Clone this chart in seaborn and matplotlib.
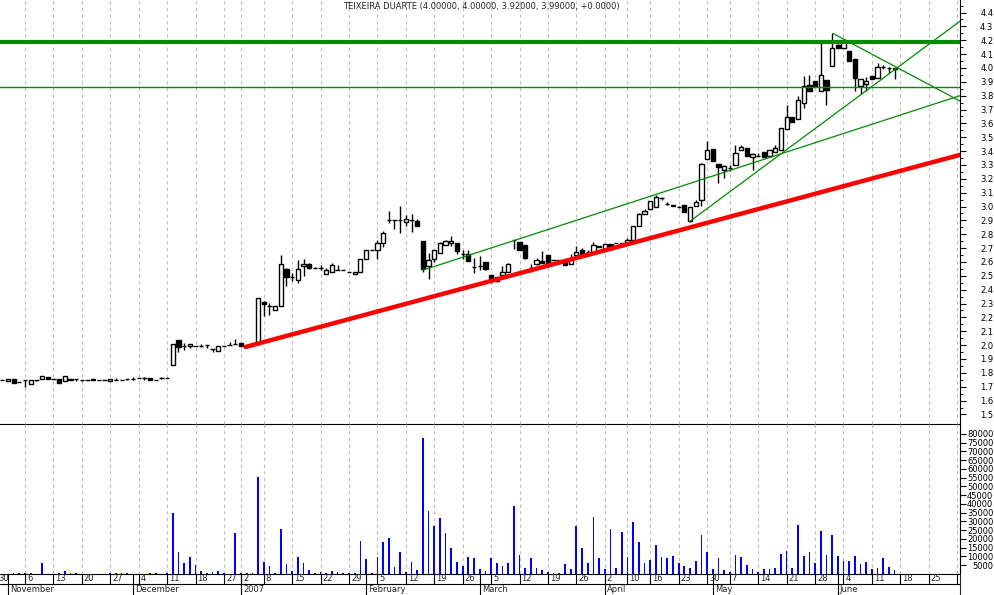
import numpy as np
import matplotlib
matplotlib.use("Agg")
import matplotlib.pyplot as plt
import seaborn as sns

# daily OHLC, trading day index 0 = 30 Oct 2006
opens = [1.752, 1.752, 1.740, 1.757, 1.735, 1.752, 1.723, 1.752, 1.757, 1.772,
         1.757, 1.757, 1.740, 1.757, 1.757, 1.752, 1.752, 1.757, 1.748, 1.748,
         1.740, 1.745, 1.752, 1.757, 1.757, 1.762, 1.762, 1.762, 1.752, 1.762,
         1.764, 1.858, 2.038, 1.997, 1.993, 1.993, 1.997, 2.002, 1.973, 1.956,
         1.993, 2.002, 2.009, 2.012, 1.995, 1.995, 2.010, 2.310, 2.286, 2.255,
         2.281, 2.546, 2.490, 2.473, 2.570, 2.587, 2.558, 2.555, 2.514, 2.529,
         2.541, 2.541, 2.527, 2.510, 2.529, 2.623, 2.685, 2.685, 2.738, 2.902,
         2.902, 2.902, 2.887, 2.902, 2.894, 2.750, 2.570, 2.623, 2.666, 2.726,
         2.735, 2.738, 2.661, 2.661, 2.565, 2.570, 2.599, 2.503, 2.490, 2.505,
         2.529, 2.758, 2.743, 2.719, 2.553, 2.587, 2.606, 2.647, 2.613, 2.613,
         2.606, 2.582, 2.647, 2.685, 2.671, 2.666, 2.714, 2.695, 2.731, 2.738,
         2.714, 2.738, 2.762, 2.863, 2.943, 2.984, 3.000, 3.060, 3.020, 3.010,
         2.998, 3.010, 2.894, 3.007, 3.050, 3.346, 3.418, 3.308, 3.267, 3.279,
         3.303, 3.406, 3.423, 3.356, 3.368, 3.394, 3.363, 3.392, 3.406, 3.561,
         3.647, 3.628, 3.748, 3.880, 3.904, 3.832, 3.911, 4.012, 4.169, 4.145,
         4.121, 4.061, 3.868, 3.885, 3.940, 3.928, 4.007, 4.000, 4.000]
highs = [1.752, 1.752, 1.757, 1.757, 1.735, 1.752, 1.752, 1.752, 1.776, 1.772,
         1.757, 1.757, 1.776, 1.757, 1.757, 1.752, 1.752, 1.757, 1.748, 1.748,
         1.757, 1.764, 1.752, 1.757, 1.767, 1.762, 1.771, 1.762, 1.752, 1.771,
         1.764, 2.009, 2.040, 2.017, 2.009, 1.993, 2.007, 2.002, 1.973, 1.997,
         1.993, 2.021, 2.045, 2.012, 1.995, 1.995, 2.341, 2.317, 2.305, 2.279,
         2.647, 2.560, 2.522, 2.613, 2.618, 2.590, 2.562, 2.575, 2.558, 2.590,
         2.580, 2.541, 2.527, 2.527, 2.618, 2.688, 2.685, 2.757, 2.822, 2.967,
         2.902, 3.003, 2.940, 2.947, 2.911, 2.750, 2.666, 2.690, 2.745, 2.762,
         2.791, 2.738, 2.690, 2.690, 2.630, 2.642, 2.599, 2.503, 2.495, 2.570,
         2.590, 2.762, 2.743, 2.719, 2.589, 2.630, 2.678, 2.647, 2.613, 2.613,
         2.606, 2.654, 2.714, 2.702, 2.690, 2.743, 2.714, 2.731, 2.731, 2.738,
         2.738, 2.774, 2.859, 2.955, 2.984, 3.039, 3.080, 3.070, 3.030, 3.010,
         3.005, 3.010, 2.998, 3.050, 3.315, 3.476, 3.418, 3.308, 3.300, 3.300,
         3.447, 3.447, 3.423, 3.387, 3.387, 3.394, 3.411, 3.447, 3.568, 3.736,
         3.647, 3.800, 3.940, 3.952, 3.904, 4.205, 3.911, 4.250, 4.175, 4.205,
         4.121, 4.061, 3.921, 3.933, 3.940, 4.036, 4.020, 4.010, 4.000]
lows = [1.752, 1.752, 1.740, 1.728, 1.735, 1.700, 1.723, 1.740, 1.757, 1.757,
        1.757, 1.728, 1.740, 1.748, 1.740, 1.740, 1.752, 1.745, 1.748, 1.748,
        1.740, 1.745, 1.752, 1.748, 1.750, 1.762, 1.752, 1.748, 1.752, 1.755,
        1.764, 1.858, 1.949, 1.968, 1.980, 1.993, 1.988, 1.980, 1.949, 1.956,
        1.993, 2.002, 2.009, 1.997, 1.995, 1.995, 2.010, 2.210, 2.220, 2.255,
        2.281, 2.425, 2.461, 2.450, 2.497, 2.550, 2.553, 2.541, 2.514, 2.529,
        2.541, 2.541, 2.527, 2.510, 2.529, 2.623, 2.685, 2.618, 2.707, 2.882,
        2.839, 2.810, 2.858, 2.815, 2.858, 2.530, 2.474, 2.600, 2.666, 2.726,
        2.714, 2.661, 2.618, 2.606, 2.517, 2.541, 2.540, 2.450, 2.455, 2.474,
        2.529, 2.695, 2.690, 2.620, 2.527, 2.580, 2.590, 2.582, 2.613, 2.606,
        2.575, 2.582, 2.642, 2.654, 2.654, 2.666, 2.710, 2.695, 2.695, 2.738,
        2.714, 2.738, 2.762, 2.863, 2.943, 2.984, 3.000, 3.050, 3.010, 3.005,
        2.998, 2.961, 2.890, 3.007, 3.007, 3.346, 3.327, 3.171, 3.207, 3.255,
        3.303, 3.406, 3.363, 3.267, 3.363, 3.356, 3.363, 3.392, 3.406, 3.561,
        3.611, 3.628, 3.712, 3.832, 3.873, 3.832, 3.736, 4.012, 4.145, 4.145,
        4.049, 3.832, 3.815, 3.832, 3.923, 3.928, 3.995, 3.963, 3.920]
closes = [1.752, 1.752, 1.757, 1.728, 1.735, 1.752, 1.752, 1.752, 1.776, 1.757,
          1.757, 1.728, 1.776, 1.748, 1.757, 1.752, 1.752, 1.745, 1.748, 1.748,
          1.757, 1.745, 1.752, 1.757, 1.757, 1.762, 1.762, 1.748, 1.752, 1.762,
          1.764, 2.009, 1.985, 1.997, 2.009, 1.993, 1.997, 2.002, 1.973, 1.997,
          1.993, 2.002, 2.009, 1.997, 1.995, 1.995, 2.341, 2.298, 2.286, 2.279,
          2.589, 2.493, 2.490, 2.550, 2.587, 2.555, 2.558, 2.555, 2.541, 2.575,
          2.541, 2.541, 2.527, 2.527, 2.618, 2.688, 2.685, 2.738, 2.810, 2.902,
          2.902, 2.902, 2.911, 2.902, 2.858, 2.546, 2.611, 2.683, 2.738, 2.750,
          2.748, 2.678, 2.661, 2.606, 2.565, 2.570, 2.546, 2.474, 2.462, 2.529,
          2.582, 2.758, 2.690, 2.630, 2.553, 2.611, 2.594, 2.594, 2.613, 2.606,
          2.575, 2.618, 2.671, 2.654, 2.671, 2.726, 2.710, 2.731, 2.695, 2.738,
          2.738, 2.762, 2.859, 2.943, 2.967, 3.039, 3.070, 3.060, 3.015, 3.005,
          3.000, 2.961, 2.998, 3.034, 3.310, 3.411, 3.327, 3.286, 3.290, 3.279,
          3.387, 3.430, 3.363, 3.380, 3.368, 3.356, 3.411, 3.423, 3.568, 3.647,
          3.611, 3.767, 3.868, 3.832, 3.873, 3.952, 3.839, 4.145, 4.145, 4.200,
          4.049, 3.928, 3.921, 3.909, 3.923, 4.007, 4.007, 4.000, 3.990]
volumes = [0, 0, 0, 400, 400, 400, 400, 0, 6500, 0,
           0, 400, 1900, 400, 800, 0, 0, 0, 0, 0,
           400, 400, 400, 800, 0, 0, 0, 400, 800, 0,
           400, 35000, 12800, 6500, 9900, 5300, 1900, 400, 1300, 1900,
           800, 0, 23600, 800, 400, 400, 55600, 7000, 4800, 800,
           25900, 5900, 1900, 9900, 6500, 2500, 800, 1300, 800, 1700,
           1300, 400, 400, 400, 19000, 8800, 800, 9900, 18500, 20700,
           4200, 12800, 1300, 7000, 2500, 77800, 36200, 27600, 32200, 23600,
           15000, 7000, 4800, 9900, 9300, 3000, 1900, 9300, 6500, 4800,
           6500, 39000, 11000, 3600, 9300, 3600, 2500, 1300, 400, 800,
           5900, 3000, 27600, 15000, 6500, 32700, 9300, 3000, 25900, 3600,
           24200, 9900, 29900, 18500, 6500, 8200, 16800, 9900, 9300, 10500,
           6500, 4800, 3600, 7600, 22500, 12800, 3000, 9300, 2500, 1300,
           11000, 9900, 5300, 3000, 1300, 3000, 3000, 3600, 11600, 13300,
           3600, 28200, 10500, 12800, 6500, 24700, 11000, 22500, 10500, 7600,
           7600, 10500, 5900, 7000, 3000, 3600, 9300, 4200, 2500]

# week ticks (trading day index) and their day labels
tick_days = [0, 5, 10, 15, 20, 25, 30, 35, 40, 43, 47, 52, 57, 62, 67, 72, 77, 82,
             87, 92, 97, 102, 107, 111, 115, 120, 125, 129, 134, 139, 144, 149,
             154, 159, 164, 169]
tick_labels = ["30", "6", "13", "20", "27", "4", "11", "18", "27", "2", "8", "15",
               "22", "29", "5", "12", "19", "26", "5", "12", "19", "26", "2", "10",
               "16", "23", "30", "7", "14", "21", "28", "4", "11", "18", "25", "2"]
month_days = [2, 24, 43, 65, 85, 107, 126, 148]
month_labels = ["November", "December", "2007", "February", "March", "April",
                "May", "June"]

price_ticks = [round(1.5 + 0.1 * k, 1) for k in range(30)]
volume_ticks = [5000 * k for k in range(1, 17)]

# drawn trend lines (day index, price)
support_x, support_y = [43.8, 169.5], [1.987, 3.373]
channel_x, channel_y = [75.0, 169.5], [2.541, 3.800]
rising_x, rising_y = [122.0, 169.5], [2.894, 4.337]
falling_x, falling_y = [147.2, 169.5], [4.248, 3.761]
resistance_major = 4.184
resistance_minor = 3.866

title = "TEIXEIRA DUARTE (4.00000, 4.00000, 3.92000, 3.99000, +0.0000)"

sns.set_style("white")
plt.rcParams['font.family'] = ['DejaVu Sans']

W, H = 994, 595
def box(x0, y0, x1, y1):
    return [x0 / W, 1 - y1 / H, (x1 - x0) / W, (y1 - y0) / H]

fig = plt.figure(figsize=(W / 100, H / 100), dpi=100)
ax_p = fig.add_axes(box(0, 0, 960, 424))
ax_v = fig.add_axes(box(0, 424, 960, 574))
ax_d = fig.add_axes(box(0, 574, 960, 595))
ax_v.patch.set_visible(False)
ax_d.patch.set_visible(False)

xmin, xmax = 0.6, 169.5
grid_kw = dict(color="#bdbdbd", lw=0.8, ls=(0, (3, 3)), zorder=0)
green = "#008c00"

# price panel
o, h, l, c = map(np.array, (opens, highs, lows, closes))
days = np.arange(len(o))
for d in tick_days:
    ax_p.axvline(d, **grid_kw)
ax_p.vlines(days, l, h, color="black", lw=1.0, zorder=2)
body_col = np.where(c >= o, "white", "black")
ax_p.bar(days, np.abs(c - o), bottom=np.minimum(o, c), width=0.75,
         color=body_col, edgecolor="black", linewidth=1.0, zorder=3)

ax_p.axhline(resistance_major, color=green, lw=3.0, zorder=4)
ax_p.axhline(resistance_minor, color=green, lw=1.0, zorder=4)
ax_p.plot(support_x, support_y, color="#ff0000", lw=3.2, zorder=4)
for xs, ys in [(channel_x, channel_y), (rising_x, rising_y), (falling_x, falling_y)]:
    ax_p.plot(xs, ys, color=green, lw=0.9, zorder=4)

ax_p.set_xlim(xmin, xmax)
ax_p.set_ylim(4.4 - 411.5 / 138.6, 4.4 + 12.5 / 138.6)
ax_p.set_xticks([])
ax_p.yaxis.tick_right()
ax_p.set_yticks(price_ticks, [f"{p:.1f}" for p in price_ticks])
ax_p.set_yticks([p + 0.05 for p in price_ticks], minor=True)

# volume panel
for d in tick_days:
    ax_v.axvline(d, **grid_kw)
sns.barplot(x=days, y=volumes, native_scale=True, width=0.3, color="#0000ff",
            saturation=1, linewidth=0, errorbar=None, ax=ax_v, zorder=2)
ax_v.set_xlim(xmin, xmax)
ax_v.set_ylim(0, 150 / 8.76 * 5000)
ax_v.set_xticks([])
ax_v.set_xlabel("")
ax_v.set_ylabel("")
ax_v.yaxis.tick_right()
ax_v.set_yticks(volume_ticks, [str(v) for v in volume_ticks])

for ax in (ax_p, ax_v):
    for side in ("top", "left"):
        ax.spines[side].set_visible(False)
    for side in ("right", "bottom"):
        ax.spines[side].set_color("black")
        ax.spines[side].set_linewidth(0.8)
        ax.spines[side].set_zorder(6)
    ax.tick_params(axis="y", which="major", length=4, width=0.8, direction="out",
                   labelsize=6, pad=20, colors="black")
    ax.tick_params(axis="y", which="minor", length=2, width=0.8, direction="out",
                   right=True, left=False)
    for t in ax.get_yticklabels():
        t.set_horizontalalignment("right")

# date strip
ax_d.set_xlim(xmin, xmax)
ax_d.set_ylim(0, 1)
ax_d.set_xticks([])
ax_d.set_yticks([])
for side in ("top", "left", "bottom"):
    ax_d.spines[side].set_visible(False)
ax_d.spines["right"].set_linewidth(0.8)
ax_d.axhline(0.52, color="black", lw=0.8)
ax_d.vlines(tick_days, 0.52, 1, color="black", lw=0.8)
ax_d.vlines(month_days, 0, 1, color="black", lw=0.8)
for d, lab in zip(tick_days, tick_labels):
    ax_d.text(d + 0.35, 0.77, lab, fontsize=6, ha="left", va="center", clip_on=True)
for d, lab in zip(month_days, month_labels):
    ax_d.text(d + 0.35, 0.25, lab, fontsize=6, ha="left", va="center", clip_on=True)

fig.text(481 / W, 1 - 7 / H, title, fontsize=6, ha="center", va="center")

fig.savefig("out.png", dpi=100)
